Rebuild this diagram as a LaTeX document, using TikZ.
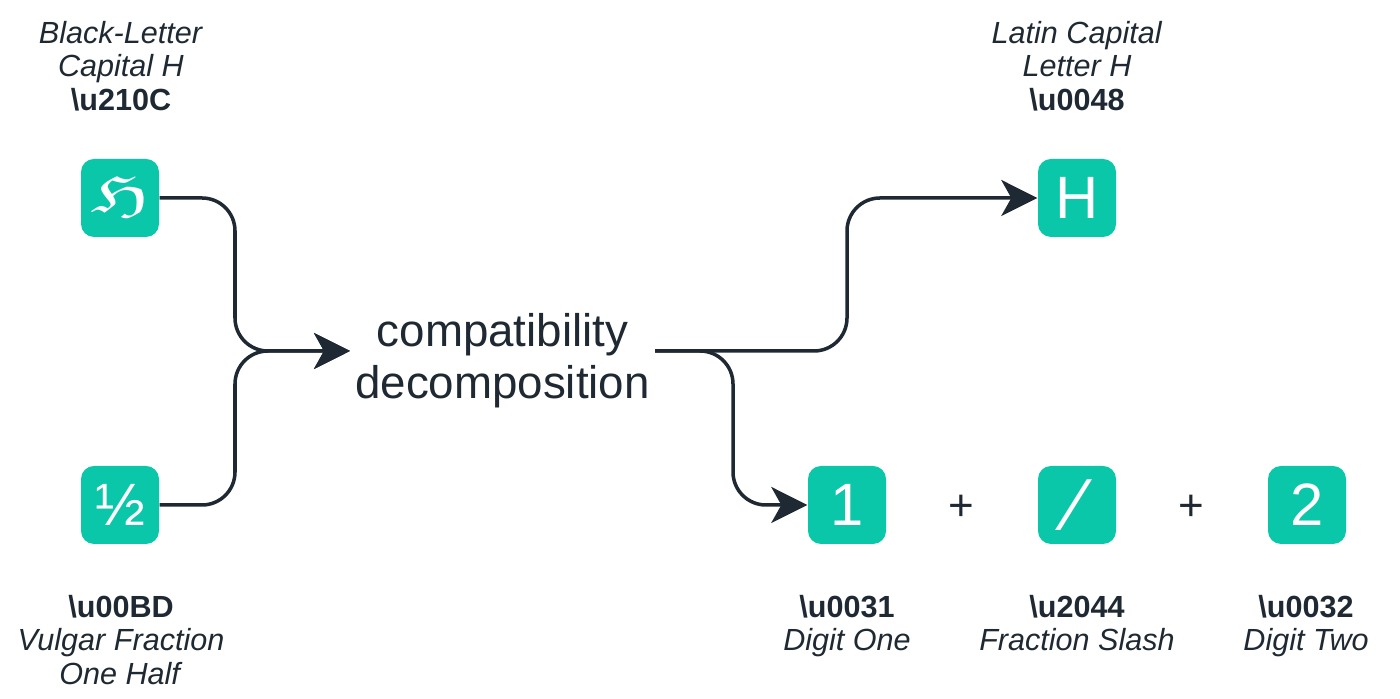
\documentclass[tikz,border=0pt]{standalone}
\usepackage{fontspec}
\setmainfont{Liberation Sans}
\newfontfamily\dejavu{DejaVu Sans}
\usetikzlibrary{arrows.meta, positioning}
\definecolor{boxgreen}{HTML}{0BC7A9}
\definecolor{inkdark}{HTML}{1F2933}
\tikzset{
    charbox/.style={fill=boxgreen, rounded corners=1.3mm, minimum size=7.8mm, inner sep=0pt, text=white, font=\fontsize{17}{17}\selectfont},
    charlabel/.style={align=center, inner sep=0pt, text=inkdark, font=\fontsize{8.7}{9.55}\selectfont},
    opsign/.style={inner sep=0pt, text=inkdark, font=\fontsize{12.5}{12.5}\selectfont},
    wire/.style={draw=inkdark, line width=1pt, rounded corners=3.3mm, -{Stealth[length=3.6mm, width=3.6mm, inset=1mm]}}
}

\begin{document}
\begin{tikzpicture}
                \useasboundingbox (0, 0) rectangle (14, 6.99);
                \node[charbox] (blackh) at (1.20, 5.01) {\dejavu\scalebox{1.27}[0.82]{ℌ}};
                \node[charbox] (half) at (1.20, 1.94) {½};
                \node[charbox] (latinh) at (10.77, 5.01) {H};
                \node[charbox] (one) at (8.47, 1.94) {1};
                \node[charbox] (slash) at (10.77, 1.94) {\fontsize{21}{21}\selectfont ⁄};
                \node[charbox] (two) at (13.07, 1.94) {2};
                \node[opsign] (plusa) at (9.61, 1.91) {+};
                \node[opsign] (plusb) at (11.91, 1.91) {+};
                \node[align=center, inner sep=0pt, minimum width=3.05cm, text=inkdark, font=\fontsize{13}{14.8}\selectfont] (comp) at (5.025, 3.38) {compatibility\\decomposition};
                \coordinate (joinl) at (2.35, 3.48);
                \coordinate (joinh) at (8.47, 3.48);
                \coordinate (joinb) at (7.33, 3.48);
                \coordinate (compin) at (3.50, 3.48);
                \coordinate (compout) at (6.55, 3.48);
                
                \node[charlabel] (lblackh) at (1.21, 6.33) {\textit{Black-Letter}\\\textit{Capital H}\\\textbf{\textbackslash u210C}};
                \node[charlabel] (llatinh) at (10.77, 6.33) {\textit{Latin Capital}\\\textit{Letter H}\\\textbf{\textbackslash u0048}};
                \node[charlabel] (lhalf) at (1.21, 0.59) {\textbf{\textbackslash u00BD}\\\textit{Vulgar Fraction}\\\textit{One Half}};
                \node[charlabel] (lone) at (8.47, 0.73) {\textbf{\textbackslash u0031}\\\textit{Digit One}};
                \node[charlabel] (lslash) at (10.77, 0.76) {\textbf{\textbackslash u2044}\\\textit{Fraction Slash}};
                \node[charlabel] (ltwo) at (13.06, 0.73) {\textbf{\textbackslash u0032}\\\textit{Digit Two}};
                
                \draw[wire] (blackh.east) -| (joinl) -- (compin);
                \draw[wire] (half.east) -| (joinl) -- (compin);
                \draw[wire] (compout) -- (joinh) |- (latinh.west);
                \draw[wire] (compout) -- (joinb) |- (one.west);
            \end{tikzpicture}
\end{document}
